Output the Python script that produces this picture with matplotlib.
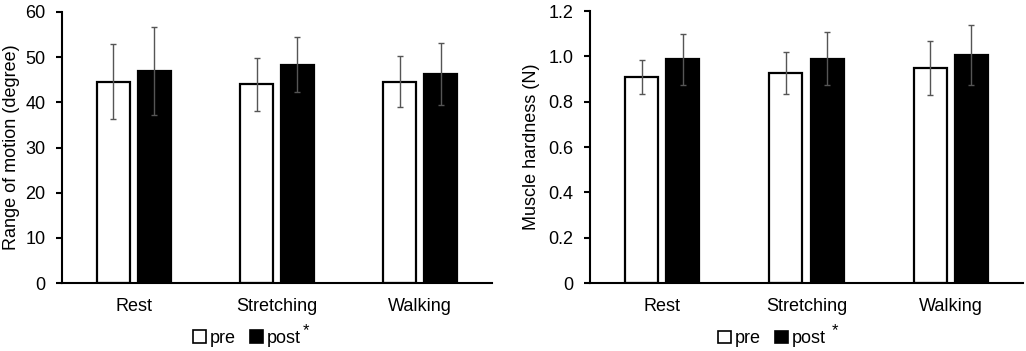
import matplotlib
matplotlib.use("Agg")
import matplotlib.pyplot as plt
from matplotlib.patches import Patch
import numpy as np

plt.rcParams['font.family'] = ['Liberation Sans', 'DejaVu Sans']

categories = ["Rest", "Stretching", "Walking"]

rom_pre = [44.6, 44.0, 44.6]
rom_pre_sd = [8.4, 5.9, 5.6]
rom_post = [46.9, 48.3, 46.3]
rom_post_sd = [9.7, 6.1, 6.8]

hard_pre = [0.909, 0.926, 0.948]
hard_pre_sd = [0.074, 0.094, 0.120]
hard_post = [0.987, 0.990, 1.006]
hard_post_sd = [0.112, 0.116, 0.132]

rom_ticks = [0, 10, 20, 30, 40, 50, 60]
rom_ticklabels = ["0", "10", "20", "30", "40", "50", "60"]
hard_ticks = [0, 0.2, 0.4, 0.6, 0.8, 1.0, 1.2]
hard_ticklabels = ["0", "0.2", "0.4", "0.6", "0.8", "1.0", "1.2"]

W, H = 1026, 351
fig = plt.figure(figsize=(W / 100, H / 100), dpi=100)

ax1 = fig.add_axes([62 / W, 68 / H, 430 / W, 271 / H])
ax2 = fig.add_axes([590 / W, 68 / H, 433 / W, 272 / H])

FS = 13


def draw(ax, pre, pre_sd, post, post_sd, ylim, ticks, ticklabels, ylabel, legx, labx):
    x = np.arange(len(categories))
    off = 0.143
    w = 0.23
    ax.bar(x - off, pre, w, color="white", edgecolor="black", linewidth=1.6, zorder=2)
    ax.bar(x + off, post, w, color="black", edgecolor="black", linewidth=1.6, zorder=2)
    ax.errorbar(x - off, pre, yerr=pre_sd, fmt="none", ecolor="#555555",
                elinewidth=1.0, capsize=2.2, capthick=1.0, zorder=3)
    ax.errorbar(x + off, post, yerr=post_sd, fmt="none", ecolor="#555555",
                elinewidth=1.0, capsize=2.2, capthick=1.0, zorder=3)
    ax.set_xlim(-0.5, 2.5)
    ax.set_ylim(*ylim)
    ax.set_yticks(ticks)
    ax.set_yticklabels(ticklabels, fontsize=FS)
    ax.set_xticks(x)
    ax.set_xticklabels(categories, fontsize=FS)
    ax.tick_params(axis="x", length=0, pad=11)
    ax.tick_params(axis="y", length=4, width=1.5, direction="out", pad=8)
    for s in ["top", "right"]:
        ax.spines[s].set_visible(False)
    ax.spines["left"].set_linewidth(1.5)
    ax.spines["bottom"].set_linewidth(1.5)
    ax.set_ylabel(ylabel, fontsize=FS)
    ax.yaxis.set_label_coords(labx, 0.5)
    handles = [Patch(facecolor="white", edgecolor="black", linewidth=1.2),
               Patch(facecolor="black", edgecolor="black", linewidth=1.2)]
    leg = ax.legend(handles, ["pre", "post"], loc="center", bbox_to_anchor=(legx, -0.205),
                    ncol=2, frameon=False, fontsize=FS, handlelength=0.7, handleheight=0.7,
                    handletextpad=0.2, columnspacing=0.8, borderaxespad=0)
    return leg


leg1 = draw(ax1, rom_pre, rom_pre_sd, rom_post, rom_post_sd, (0, 60), rom_ticks,
            rom_ticklabels, "Range of motion (degree)", 0.43, -0.098)
leg2 = draw(ax2, hard_pre, hard_pre_sd, hard_post, hard_post_sd, (0, 1.2), hard_ticks,
            hard_ticklabels, "Muscle hardness (N)", 0.42, -0.115)

fig.text(306 / W, 1 - 331 / H, "*", fontsize=12, ha="center", va="center")
fig.text(835 / W, 1 - 331 / H, "*", fontsize=12, ha="center", va="center")

fig.savefig("out.png", dpi=100, facecolor="white")
